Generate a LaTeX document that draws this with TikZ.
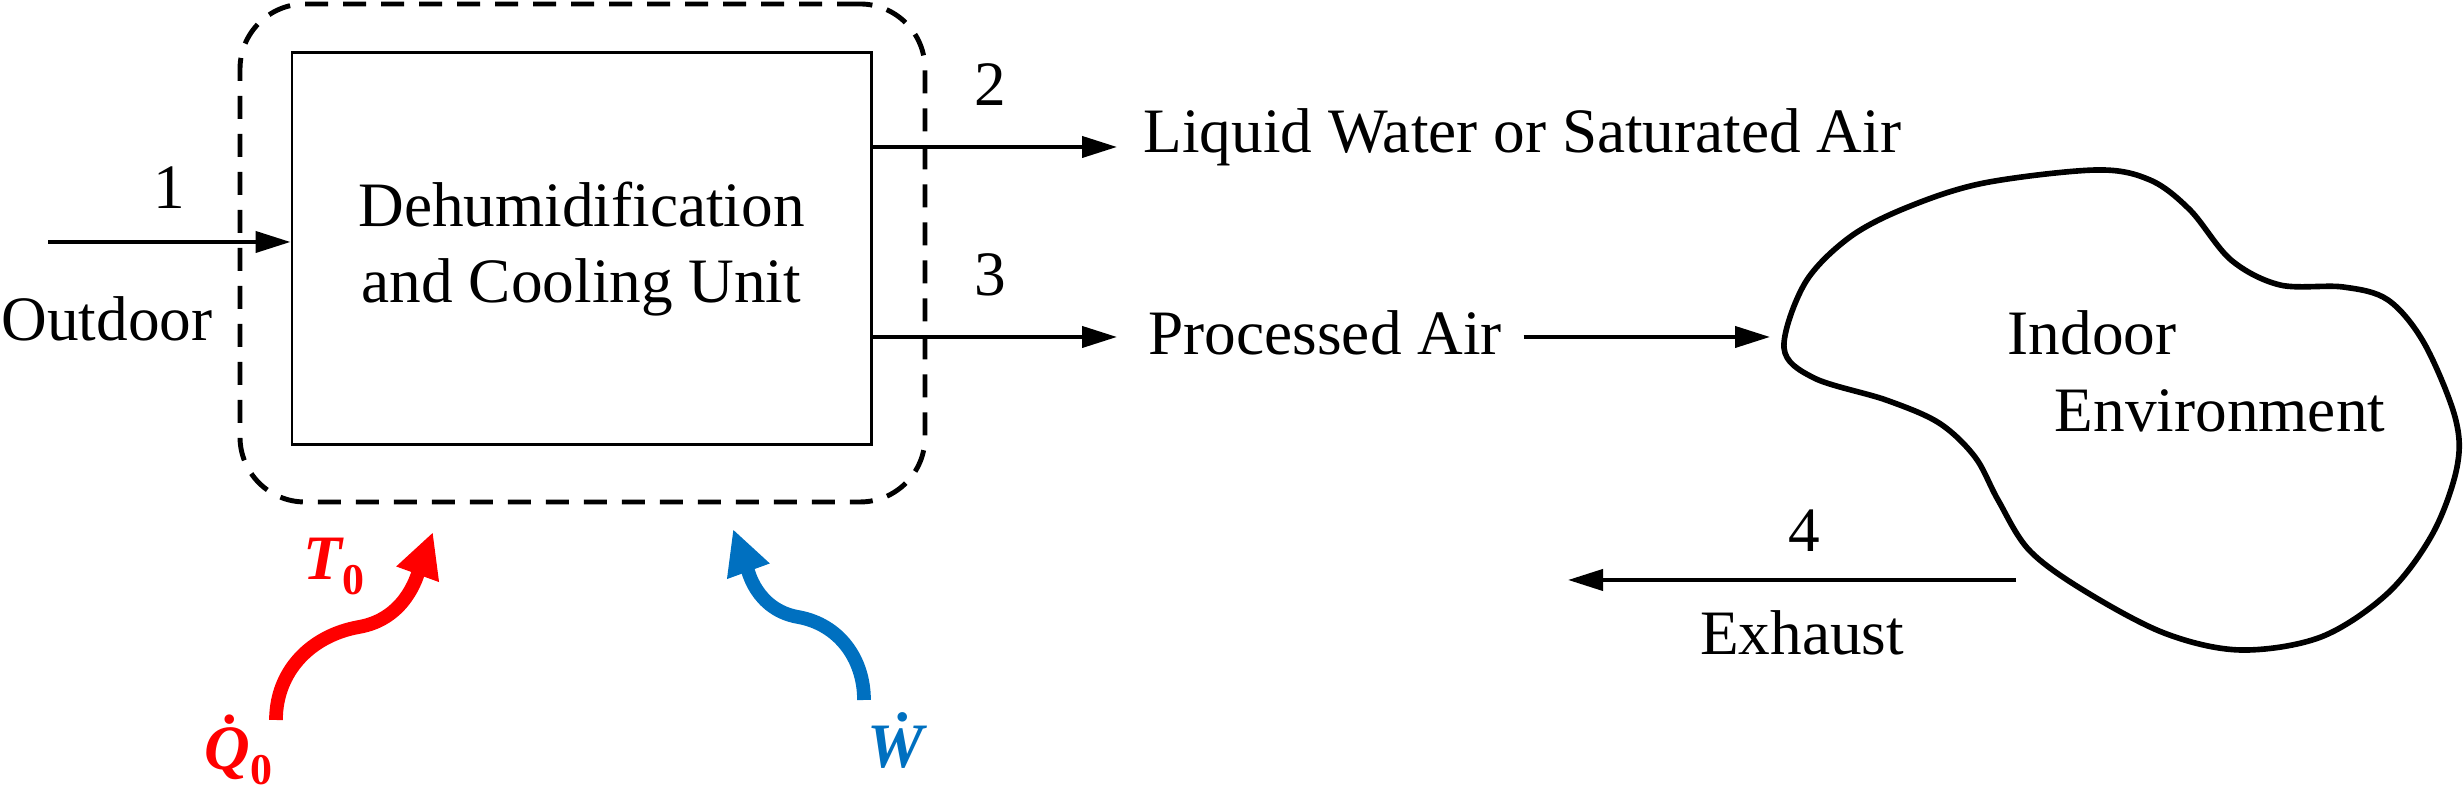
\documentclass[tikz,border=0pt]{standalone}
\usepackage{fontspec}
\setmainfont{Liberation Serif}
\usetikzlibrary{positioning,arrows.meta}
\definecolor{rojo}{HTML}{FF0000}
\definecolor{azul}{HTML}{0070C0}
\newcommand{\grande}{\fontsize{18}{21.6}\selectfont}
\newcommand{\subi}[1]{\raisebox{-4pt}{\fontsize{12.5}{14}\selectfont\bfseries\upshape #1}}
\tikzset{t/.style={font=\grande,inner sep=0},
         e/.style={font=\grande\bfseries\itshape,inner sep=0,anchor=base west},
         f/.style={-{Triangle[length=3.5mm,width=2.1mm]},line width=1.15pt},
         q/.style={-{Triangle[length=4.5mm,width=4.2mm]},line width=3.9pt},
         vc/.style={draw,dashed,dash pattern=on 2.3mm off 1.5mm,rounded corners=6.5mm,line width=1.4pt}}

\begin{document}
\begin{tikzpicture}
  \useasboundingbox (0,0) rectangle (24.63,7.98);
  \node[vc,minimum width=6.85cm,minimum height=4.98cm] (vc) at (5.825,5.45) {};
  \node[t,draw,line width=.85pt,minimum width=5.79cm,minimum height=3.92cm,align=center] (unit) at (5.815,5.49)
       {Dehumidification\\and Cooling Unit};
  % entrada
  \coordinate (i1) at (0.48,5.56);
  \draw[f] (i1) -- (i1 -| unit.west);
  \node[t,anchor=base] (n1) at (1.69,5.89) {1};
  \node[t,anchor=base] (outd) at (1.07,4.57) {Outdoor};
  % salidas
  \foreach \k/\y in {2/6.51,3/4.61} {
    \coordinate (o\k) at (11.17,\y);
    \draw[f] (unit.east |- o\k) -- (o\k);
    \node[t,anchor=base] (n\k) at (9.90,\y+.41) {\k};
  }
  \node[t,anchor=base west] (liq) at (11.43,6.45) {Liquid Water or Saturated Air};
  \node[t,anchor=base west,inner xsep=2.1mm] (proc) at (11.27,4.43) {Processed Air};
  % ambiente interior
  \draw[line width=1.6pt] plot[smooth cycle,tension=.55] coordinates {
    (17.84,4.50) (18.05,5.15) (18.50,5.61) (19.08,5.91) (19.84,6.15) (20.96,6.28)
    (21.50,6.18) (21.90,5.88) (22.31,5.38) (22.80,5.13) (23.43,5.11) (23.88,4.98)
    (24.24,4.55) (24.55,3.81) (24.57,3.31) (24.33,2.65) (23.88,2.05) (23.21,1.61)
    (22.40,1.48) (21.64,1.65) (20.83,2.08) (20.29,2.48) (19.98,2.98) (19.75,3.41)
    (19.39,3.75) (18.86,3.98) (18.14,4.20)};
  \node[t,anchor=base] (indoor) at (20.92,4.43) {Indoor};
  \node[t,anchor=base] (envn) at (22.20,3.66) {Environment};
  \coordinate (envIn) at (17.70,4.61);
  \draw[f] (proc.east |- envIn) -- (envIn);
  \coordinate (exOut) at (20.16,2.18);
  \coordinate (exIn) at (15.68,2.18);
  \draw[f] (exOut) -- (exIn);
  \node[t,anchor=base] (n4) at (18.04,2.46) {4};
  \node[t,anchor=base] (exh) at (18.02,1.43) {Exhaust};
  % calor y trabajo
  \coordinate (qa) at (2.76,0.78); \coordinate (qb) at (3.59,1.71); \coordinate (qc) at (4.33,2.66);
  \coordinate (wa) at (8.64,0.98); \coordinate (wb) at (7.98,1.81); \coordinate (wc) at (7.33,2.69);
  \draw[q,rojo] (qa) to[out=90,in=190] (qb) to[out=10,in=250] (qc);
  \draw[q,azul] (wa) to[out=90,in=-10] (wb) to[out=170,in=290] (wc);
  \node[e,rojo] (t0) at (3.03,2.18) {T\subi{0}};
  \node[e,rojo] (q0) at (2.04,0.28) {\.{Q}\subi{0}};
  \node[e,azul] (w) at (8.67,0.30) {\.{W}};
\end{tikzpicture}
\end{document}
